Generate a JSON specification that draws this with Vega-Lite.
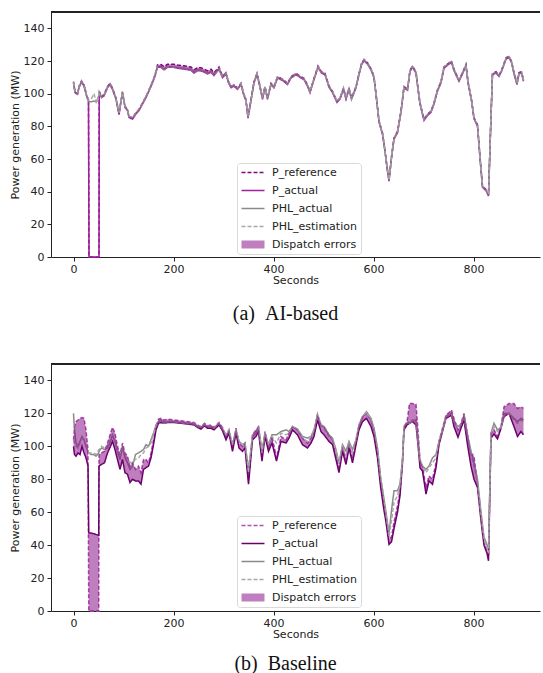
{
"$schema": "https://vega.github.io/schema/vega-lite/v6.json",
"background": "white",
"padding": {"left": 9, "top": 11, "right": 0, "bottom": 0},
"spacing": 39,
"config": {
  "view": {"stroke": null},
  "axis": {"domainColor": "#222", "tickColor": "#222", "labelColor": "#222", "titleColor": "#222", "labelFont": "DejaVu Sans", "titleFont": "DejaVu Sans", "labelFontSize": 11, "titleFontSize": 11, "titleFontWeight": "normal", "grid": false, "tickSize": 4, "labelPadding": 3, "domainWidth": 1, "tickWidth": 1, "titlePadding": 3, "labelOverlap": false},
  "axisX": {"titlePadding": 0, "labelPadding": 2},
  "title": {"font": "Liberation Serif", "fontSize": 20, "fontWeight": "normal", "color": "#111"}
},
"resolve": {"scale": {"color": "independent", "strokeDash": "independent"}, "legend": {"color": "independent"}},
"datasets": {
"a": [
{"t":0,"P_reference":107.4,"P_actual":106.6,"PHL_actual":107,"PHL_estimation":107},
{"t":3,"P_reference":101.4,"P_actual":100.6,"PHL_actual":101,"PHL_estimation":101.2},
{"t":8,"P_reference":100.4,"P_actual":99.6,"PHL_actual":100,"PHL_estimation":100.2},
{"t":11,"P_reference":104.4,"P_actual":103.6,"PHL_actual":104,"PHL_estimation":104.2},
{"t":16,"P_reference":107.9,"P_actual":107.1,"PHL_actual":107.5,"PHL_estimation":107.5},
{"t":21,"P_reference":105.4,"P_actual":104.6,"PHL_actual":105,"PHL_estimation":105.2},
{"t":27,"P_reference":98.4,"P_actual":97.6,"PHL_actual":98,"PHL_estimation":98.2},
{"t":30,"P_reference":96.4,"P_actual":95.6,"PHL_actual":96,"PHL_estimation":96.2},
{"t":31,"P_reference":0,"P_actual":0,"PHL_actual":95,"PHL_estimation":96.5},
{"t":36,"P_reference":0,"P_actual":0,"PHL_actual":95,"PHL_estimation":97},
{"t":41,"P_reference":0,"P_actual":0,"PHL_actual":95.5,"PHL_estimation":100},
{"t":46,"P_reference":0,"P_actual":0,"PHL_actual":95,"PHL_estimation":94},
{"t":51,"P_reference":0,"P_actual":0,"PHL_actual":99,"PHL_estimation":100},
{"t":51.5,"P_reference":101.4,"P_actual":100.6,"PHL_actual":101,"PHL_estimation":101},
{"t":56,"P_reference":98.4,"P_actual":97.6,"PHL_actual":98,"PHL_estimation":98.2},
{"t":61,"P_reference":99.4,"P_actual":98.6,"PHL_actual":99,"PHL_estimation":99.2},
{"t":68,"P_reference":104.4,"P_actual":103.6,"PHL_actual":104,"PHL_estimation":104.2},
{"t":73,"P_reference":106.4,"P_actual":105.6,"PHL_actual":106,"PHL_estimation":106.2},
{"t":78,"P_reference":103.4,"P_actual":102.6,"PHL_actual":103,"PHL_estimation":103.2},
{"t":85,"P_reference":97.4,"P_actual":96.6,"PHL_actual":97,"PHL_estimation":97.2},
{"t":91,"P_reference":88,"P_actual":87.2,"PHL_actual":88.2,"PHL_estimation":88.4},
{"t":98,"P_reference":101.4,"P_actual":100.6,"PHL_actual":101,"PHL_estimation":101.2},
{"t":103,"P_reference":92.4,"P_actual":91.6,"PHL_actual":92,"PHL_estimation":92.2},
{"t":108,"P_reference":90.4,"P_actual":89.6,"PHL_actual":90,"PHL_estimation":90.2},
{"t":111,"P_reference":86.2,"P_actual":85.4,"PHL_actual":86,"PHL_estimation":86.2},
{"t":118,"P_reference":85.2,"P_actual":84.4,"PHL_actual":85,"PHL_estimation":85.2},
{"t":125,"P_reference":88.4,"P_actual":87.6,"PHL_actual":88,"PHL_estimation":88.2},
{"t":131,"P_reference":90.4,"P_actual":89.6,"PHL_actual":90,"PHL_estimation":90.2},
{"t":138,"P_reference":94.4,"P_actual":93.6,"PHL_actual":94,"PHL_estimation":94.2},
{"t":145,"P_reference":98.4,"P_actual":97.6,"PHL_actual":98,"PHL_estimation":98.2},
{"t":151,"P_reference":102.4,"P_actual":101.6,"PHL_actual":102,"PHL_estimation":102.2},
{"t":158,"P_reference":107.4,"P_actual":106.6,"PHL_actual":107,"PHL_estimation":107.2},
{"t":163,"P_reference":111.6,"P_actual":110.6,"PHL_actual":111,"PHL_estimation":111.2},
{"t":168,"P_reference":117.6,"P_actual":116.3,"PHL_actual":116.7,"PHL_estimation":116.9},
{"t":175,"P_reference":117.8,"P_actual":116.1,"PHL_actual":116.5,"PHL_estimation":116.7},
{"t":181,"P_reference":116.6,"P_actual":114.6,"PHL_actual":115,"PHL_estimation":115.2},
{"t":188,"P_reference":118,"P_actual":116.1,"PHL_actual":116.5,"PHL_estimation":116.7},
{"t":200,"P_reference":118,"P_actual":116.1,"PHL_actual":116.5,"PHL_estimation":116.5},
{"t":208,"P_reference":117.6,"P_actual":115.6,"PHL_actual":116,"PHL_estimation":116.2},
{"t":220,"P_reference":117.1,"P_actual":115.1,"PHL_actual":115.5,"PHL_estimation":115.7},
{"t":235,"P_reference":116.3,"P_actual":114.3,"PHL_actual":114.7,"PHL_estimation":114.9},
{"t":241,"P_reference":114.6,"P_actual":112.6,"PHL_actual":113,"PHL_estimation":113.2},
{"t":248,"P_reference":116,"P_actual":114.1,"PHL_actual":114.5,"PHL_estimation":114.7},
{"t":255,"P_reference":115.8,"P_actual":113.9,"PHL_actual":114.3,"PHL_estimation":114.5},
{"t":262,"P_reference":115,"P_actual":113.1,"PHL_actual":113.5,"PHL_estimation":113.7},
{"t":268,"P_reference":114,"P_actual":112.1,"PHL_actual":112.5,"PHL_estimation":112.7},
{"t":275,"P_reference":115,"P_actual":113.1,"PHL_actual":113.5,"PHL_estimation":113.7},
{"t":281,"P_reference":112.8,"P_actual":111.1,"PHL_actual":111.5,"PHL_estimation":111.7},
{"t":291,"P_reference":116.3,"P_actual":114.9,"PHL_actual":115.3,"PHL_estimation":115.5},
{"t":298,"P_reference":110.8,"P_actual":109.8,"PHL_actual":110.2,"PHL_estimation":110.4},
{"t":305,"P_reference":112.8,"P_actual":112,"PHL_actual":112.4,"PHL_estimation":112.6},
{"t":310,"P_reference":107.4,"P_actual":106.6,"PHL_actual":107,"PHL_estimation":107.2},
{"t":315,"P_reference":104.4,"P_actual":103.6,"PHL_actual":104,"PHL_estimation":104.2},
{"t":321,"P_reference":105.4,"P_actual":104.6,"PHL_actual":105,"PHL_estimation":105.2},
{"t":328,"P_reference":103.4,"P_actual":102.6,"PHL_actual":103,"PHL_estimation":103.2},
{"t":335,"P_reference":106.4,"P_actual":105.6,"PHL_actual":106,"PHL_estimation":106.2},
{"t":340,"P_reference":100.4,"P_actual":99.6,"PHL_actual":100,"PHL_estimation":100.2},
{"t":345,"P_reference":96.4,"P_actual":95.6,"PHL_actual":96,"PHL_estimation":96.2},
{"t":349,"P_reference":85.8,"P_actual":85,"PHL_actual":85.7,"PHL_estimation":86},
{"t":355,"P_reference":96.4,"P_actual":95.6,"PHL_actual":96,"PHL_estimation":96.2},
{"t":361,"P_reference":107.4,"P_actual":106.6,"PHL_actual":107,"PHL_estimation":107.2},
{"t":367,"P_reference":112.4,"P_actual":111.6,"PHL_actual":112,"PHL_estimation":112.2},
{"t":371,"P_reference":107.4,"P_actual":106.6,"PHL_actual":107,"PHL_estimation":107.2},
{"t":378,"P_reference":97.4,"P_actual":96.6,"PHL_actual":97,"PHL_estimation":97.2},
{"t":383,"P_reference":104.4,"P_actual":103.6,"PHL_actual":104,"PHL_estimation":104.2},
{"t":388,"P_reference":97.4,"P_actual":96.6,"PHL_actual":97,"PHL_estimation":97.2},
{"t":395,"P_reference":106.4,"P_actual":105.6,"PHL_actual":106,"PHL_estimation":106.2},
{"t":401,"P_reference":104.4,"P_actual":103.6,"PHL_actual":104,"PHL_estimation":104.2},
{"t":408,"P_reference":110.4,"P_actual":109.6,"PHL_actual":110,"PHL_estimation":110.2},
{"t":418,"P_reference":108.9,"P_actual":108.1,"PHL_actual":108.5,"PHL_estimation":108.7},
{"t":428,"P_reference":106.4,"P_actual":105.6,"PHL_actual":106,"PHL_estimation":106.2},
{"t":435,"P_reference":110.4,"P_actual":109.6,"PHL_actual":110,"PHL_estimation":110.2},
{"t":445,"P_reference":112.4,"P_actual":111.6,"PHL_actual":112,"PHL_estimation":112.2},
{"t":455,"P_reference":110.4,"P_actual":109.6,"PHL_actual":110,"PHL_estimation":110.2},
{"t":461,"P_reference":109.4,"P_actual":108.6,"PHL_actual":109,"PHL_estimation":109.2},
{"t":468,"P_reference":105.4,"P_actual":104.6,"PHL_actual":105,"PHL_estimation":105.2},
{"t":473,"P_reference":101.4,"P_actual":100.6,"PHL_actual":101,"PHL_estimation":101.2},
{"t":481,"P_reference":109.4,"P_actual":108.6,"PHL_actual":109,"PHL_estimation":109.2},
{"t":489,"P_reference":116.9,"P_actual":116.1,"PHL_actual":116.5,"PHL_estimation":116.7},
{"t":496,"P_reference":113.4,"P_actual":112.6,"PHL_actual":113,"PHL_estimation":113.2},
{"t":503,"P_reference":112.4,"P_actual":111.6,"PHL_actual":112,"PHL_estimation":112.2},
{"t":511,"P_reference":104.7,"P_actual":103.9,"PHL_actual":104.3,"PHL_estimation":104.5},
{"t":518,"P_reference":101.4,"P_actual":100.6,"PHL_actual":101,"PHL_estimation":101.2},
{"t":527,"P_reference":95.4,"P_actual":94.6,"PHL_actual":95,"PHL_estimation":95.2},
{"t":533,"P_reference":97.4,"P_actual":96.6,"PHL_actual":97,"PHL_estimation":97.2},
{"t":540,"P_reference":103.4,"P_actual":102.6,"PHL_actual":103,"PHL_estimation":103.2},
{"t":545,"P_reference":97.4,"P_actual":96.6,"PHL_actual":97,"PHL_estimation":97.2},
{"t":551,"P_reference":103.4,"P_actual":102.6,"PHL_actual":103,"PHL_estimation":103.2},
{"t":556,"P_reference":97.4,"P_actual":96.6,"PHL_actual":97,"PHL_estimation":97.2},
{"t":565,"P_reference":104.4,"P_actual":103.6,"PHL_actual":104,"PHL_estimation":104.2},
{"t":571,"P_reference":112.4,"P_actual":111.6,"PHL_actual":112,"PHL_estimation":112.2},
{"t":576,"P_reference":118.4,"P_actual":117.6,"PHL_actual":118,"PHL_estimation":118.2},
{"t":581,"P_reference":120.9,"P_actual":120.1,"PHL_actual":120.5,"PHL_estimation":120.7},
{"t":588,"P_reference":118.9,"P_actual":118.1,"PHL_actual":118.5,"PHL_estimation":118.7},
{"t":595,"P_reference":115.4,"P_actual":114.6,"PHL_actual":115,"PHL_estimation":115.2},
{"t":601,"P_reference":110.4,"P_actual":109.6,"PHL_actual":110,"PHL_estimation":110.2},
{"t":606,"P_reference":97.4,"P_actual":96.6,"PHL_actual":97,"PHL_estimation":97.2},
{"t":611,"P_reference":83.4,"P_actual":82.6,"PHL_actual":83,"PHL_estimation":83.2},
{"t":618,"P_reference":75.9,"P_actual":75.1,"PHL_actual":75.5,"PHL_estimation":75.7},
{"t":623,"P_reference":65.4,"P_actual":64.6,"PHL_actual":65,"PHL_estimation":65.2},
{"t":627,"P_reference":55.4,"P_actual":54.6,"PHL_actual":55,"PHL_estimation":55.2},
{"t":631,"P_reference":47.2,"P_actual":46.4,"PHL_actual":47,"PHL_estimation":47.2},
{"t":636,"P_reference":61.4,"P_actual":60.6,"PHL_actual":61,"PHL_estimation":61.2},
{"t":641,"P_reference":72.9,"P_actual":72.1,"PHL_actual":72.5,"PHL_estimation":72.7},
{"t":648,"P_reference":76.9,"P_actual":76.1,"PHL_actual":76.5,"PHL_estimation":76.7},
{"t":655,"P_reference":89.4,"P_actual":88.6,"PHL_actual":89,"PHL_estimation":89.2},
{"t":661,"P_reference":104.4,"P_actual":103.6,"PHL_actual":104,"PHL_estimation":104.2},
{"t":668,"P_reference":102.9,"P_actual":102.1,"PHL_actual":102.5,"PHL_estimation":102.7},
{"t":673,"P_reference":114.4,"P_actual":113.6,"PHL_actual":114,"PHL_estimation":114.2},
{"t":678,"P_reference":116.9,"P_actual":116.1,"PHL_actual":116.5,"PHL_estimation":116.7},
{"t":685,"P_reference":113.4,"P_actual":112.6,"PHL_actual":113,"PHL_estimation":113.2},
{"t":689,"P_reference":103.4,"P_actual":102.6,"PHL_actual":103,"PHL_estimation":103.2},
{"t":693,"P_reference":94.4,"P_actual":93.6,"PHL_actual":94,"PHL_estimation":94.2},
{"t":701,"P_reference":84.4,"P_actual":83.6,"PHL_actual":84,"PHL_estimation":84.2},
{"t":708,"P_reference":87.4,"P_actual":86.6,"PHL_actual":87,"PHL_estimation":87.2},
{"t":715,"P_reference":89.4,"P_actual":88.6,"PHL_actual":89,"PHL_estimation":89.2},
{"t":721,"P_reference":94.4,"P_actual":93.6,"PHL_actual":94,"PHL_estimation":94.2},
{"t":728,"P_reference":102.4,"P_actual":101.6,"PHL_actual":102,"PHL_estimation":102.2},
{"t":735,"P_reference":107.4,"P_actual":106.6,"PHL_actual":107,"PHL_estimation":107.2},
{"t":741,"P_reference":116.4,"P_actual":115.6,"PHL_actual":116,"PHL_estimation":116.2},
{"t":751,"P_reference":118.9,"P_actual":118.1,"PHL_actual":118.5,"PHL_estimation":118.7},
{"t":756,"P_reference":119.9,"P_actual":119.1,"PHL_actual":119.5,"PHL_estimation":119.7},
{"t":761,"P_reference":114.9,"P_actual":114.1,"PHL_actual":114.5,"PHL_estimation":114.7},
{"t":771,"P_reference":108.4,"P_actual":107.6,"PHL_actual":108,"PHL_estimation":108.2},
{"t":778,"P_reference":112.9,"P_actual":112.1,"PHL_actual":112.5,"PHL_estimation":112.7},
{"t":785,"P_reference":117.9,"P_actual":117.1,"PHL_actual":117.5,"PHL_estimation":117.7},
{"t":789,"P_reference":107.4,"P_actual":106.6,"PHL_actual":107,"PHL_estimation":107.2},
{"t":796,"P_reference":96.4,"P_actual":95.6,"PHL_actual":96,"PHL_estimation":96.2},
{"t":801,"P_reference":85.4,"P_actual":84.6,"PHL_actual":85,"PHL_estimation":85.2},
{"t":808,"P_reference":80.9,"P_actual":80.1,"PHL_actual":80.5,"PHL_estimation":80.7},
{"t":813,"P_reference":61.4,"P_actual":60.6,"PHL_actual":61,"PHL_estimation":61.2},
{"t":818,"P_reference":43.4,"P_actual":42.6,"PHL_actual":43,"PHL_estimation":43.2},
{"t":825,"P_reference":41.4,"P_actual":40.6,"PHL_actual":41,"PHL_estimation":41.2},
{"t":830,"P_reference":38.2,"P_actual":37.4,"PHL_actual":38,"PHL_estimation":38.2},
{"t":835,"P_reference":86.4,"P_actual":85.6,"PHL_actual":86,"PHL_estimation":86.2},
{"t":838,"P_reference":112.4,"P_actual":111.6,"PHL_actual":112,"PHL_estimation":112.2},
{"t":845,"P_reference":113.4,"P_actual":112.6,"PHL_actual":113,"PHL_estimation":113.2},
{"t":851,"P_reference":111.4,"P_actual":110.6,"PHL_actual":111,"PHL_estimation":111.2},
{"t":856,"P_reference":114.4,"P_actual":113.6,"PHL_actual":114,"PHL_estimation":114.2},
{"t":865,"P_reference":121.9,"P_actual":121.1,"PHL_actual":121.5,"PHL_estimation":121.7},
{"t":871,"P_reference":122.9,"P_actual":122.1,"PHL_actual":122.5,"PHL_estimation":122.7},
{"t":876,"P_reference":119.9,"P_actual":119.1,"PHL_actual":119.5,"PHL_estimation":119.7},
{"t":881,"P_reference":112.9,"P_actual":112.1,"PHL_actual":112.5,"PHL_estimation":112.7},
{"t":887,"P_reference":106.4,"P_actual":105.6,"PHL_actual":106,"PHL_estimation":106.2},
{"t":891,"P_reference":112.9,"P_actual":112.1,"PHL_actual":112.5,"PHL_estimation":112.7},
{"t":896,"P_reference":113.4,"P_actual":112.6,"PHL_actual":113,"PHL_estimation":113.2},
{"t":900,"P_reference":108.4,"P_actual":107.6,"PHL_actual":108,"PHL_estimation":108.2}
],
"b": [
{"t":0,"P_reference":104,"P_actual":100,"PHL_actual":120,"PHL_estimation":104},
{"t":2,"P_reference":112,"P_actual":95,"PHL_actual":110,"PHL_estimation":102},
{"t":5,"P_reference":115,"P_actual":94,"PHL_actual":102,"PHL_estimation":100},
{"t":9,"P_reference":116,"P_actual":96,"PHL_actual":100,"PHL_estimation":99},
{"t":13,"P_reference":117,"P_actual":95,"PHL_actual":103,"PHL_estimation":102},
{"t":17,"P_reference":117.5,"P_actual":100,"PHL_actual":106,"PHL_estimation":105},
{"t":21,"P_reference":117,"P_actual":96,"PHL_actual":104,"PHL_estimation":104},
{"t":25,"P_reference":110,"P_actual":93,"PHL_actual":100,"PHL_estimation":100},
{"t":29,"P_reference":98,"P_actual":88,"PHL_actual":97,"PHL_estimation":97},
{"t":30.5,"P_reference":0,"P_actual":47.5,"PHL_actual":96,"PHL_estimation":96},
{"t":35,"P_reference":0,"P_actual":47.3,"PHL_actual":95,"PHL_estimation":96},
{"t":40,"P_reference":0,"P_actual":47,"PHL_actual":95,"PHL_estimation":96},
{"t":45,"P_reference":0,"P_actual":46.5,"PHL_actual":94,"PHL_estimation":95},
{"t":50.5,"P_reference":0,"P_actual":46,"PHL_actual":96,"PHL_estimation":98},
{"t":51,"P_reference":95,"P_actual":88,"PHL_actual":97,"PHL_estimation":98},
{"t":56,"P_reference":96,"P_actual":89,"PHL_actual":99,"PHL_estimation":100},
{"t":62,"P_reference":97,"P_actual":90,"PHL_actual":98,"PHL_estimation":99},
{"t":68,"P_reference":102,"P_actual":96,"PHL_actual":99,"PHL_estimation":100},
{"t":74,"P_reference":108,"P_actual":100,"PHL_actual":103,"PHL_estimation":104},
{"t":78,"P_reference":111.5,"P_actual":103,"PHL_actual":107,"PHL_estimation":107},
{"t":83,"P_reference":108,"P_actual":98,"PHL_actual":103,"PHL_estimation":103},
{"t":88,"P_reference":100,"P_actual":92,"PHL_actual":97,"PHL_estimation":97},
{"t":93,"P_reference":95,"P_actual":86,"PHL_actual":92,"PHL_estimation":94},
{"t":98,"P_reference":102,"P_actual":92,"PHL_actual":100,"PHL_estimation":99},
{"t":103,"P_reference":96,"P_actual":84,"PHL_actual":93,"PHL_estimation":94},
{"t":108,"P_reference":94,"P_actual":83,"PHL_actual":90,"PHL_estimation":92},
{"t":113,"P_reference":88,"P_actual":78,"PHL_actual":86,"PHL_estimation":90},
{"t":118,"P_reference":90,"P_actual":80,"PHL_actual":88,"PHL_estimation":91},
{"t":124,"P_reference":86,"P_actual":79,"PHL_actual":95,"PHL_estimation":92},
{"t":130,"P_reference":88,"P_actual":79,"PHL_actual":96,"PHL_estimation":93},
{"t":135,"P_reference":84,"P_actual":77,"PHL_actual":97,"PHL_estimation":95},
{"t":140,"P_reference":92,"P_actual":86,"PHL_actual":98,"PHL_estimation":96},
{"t":145,"P_reference":92,"P_actual":87,"PHL_actual":101,"PHL_estimation":99},
{"t":150,"P_reference":90,"P_actual":88,"PHL_actual":100,"PHL_estimation":100},
{"t":155,"P_reference":96,"P_actual":93,"PHL_actual":104,"PHL_estimation":102},
{"t":160,"P_reference":104,"P_actual":101,"PHL_actual":108,"PHL_estimation":107},
{"t":165,"P_reference":112,"P_actual":110,"PHL_actual":113,"PHL_estimation":112},
{"t":170,"P_reference":116.5,"P_actual":114,"PHL_actual":115,"PHL_estimation":115},
{"t":175,"P_reference":117,"P_actual":114.5,"PHL_actual":116,"PHL_estimation":116},
{"t":180,"P_reference":116,"P_actual":114,"PHL_actual":114,"PHL_estimation":115},
{"t":190,"P_reference":116.5,"P_actual":114.5,"PHL_actual":115,"PHL_estimation":115.5},
{"t":200,"P_reference":116,"P_actual":114.5,"PHL_actual":115,"PHL_estimation":115},
{"t":215,"P_reference":115.5,"P_actual":114,"PHL_actual":114.5,"PHL_estimation":114.5},
{"t":230,"P_reference":115,"P_actual":113.5,"PHL_actual":114,"PHL_estimation":114},
{"t":241,"P_reference":114.5,"P_actual":113,"PHL_actual":113.5,"PHL_estimation":114},
{"t":248,"P_reference":113,"P_actual":111.5,"PHL_actual":112,"PHL_estimation":112.5},
{"t":255,"P_reference":112,"P_actual":110.5,"PHL_actual":111.5,"PHL_estimation":112},
{"t":262,"P_reference":114,"P_actual":112.5,"PHL_actual":113,"PHL_estimation":113.5},
{"t":268,"P_reference":112.5,"P_actual":111,"PHL_actual":112,"PHL_estimation":112},
{"t":275,"P_reference":113,"P_actual":111,"PHL_actual":112,"PHL_estimation":112.5},
{"t":281,"P_reference":111.5,"P_actual":110,"PHL_actual":111,"PHL_estimation":111},
{"t":291,"P_reference":114.5,"P_actual":113,"PHL_actual":114,"PHL_estimation":114},
{"t":298,"P_reference":111.5,"P_actual":109.5,"PHL_actual":110.5,"PHL_estimation":111},
{"t":305,"P_reference":106,"P_actual":104,"PHL_actual":107,"PHL_estimation":107},
{"t":311,"P_reference":110,"P_actual":108,"PHL_actual":109,"PHL_estimation":110},
{"t":318,"P_reference":100,"P_actual":97,"PHL_actual":101,"PHL_estimation":101},
{"t":325,"P_reference":111,"P_actual":108,"PHL_actual":110,"PHL_estimation":110},
{"t":331,"P_reference":102,"P_actual":99,"PHL_actual":103,"PHL_estimation":103},
{"t":338,"P_reference":100,"P_actual":97,"PHL_actual":101,"PHL_estimation":101},
{"t":343,"P_reference":102,"P_actual":99,"PHL_actual":102,"PHL_estimation":102},
{"t":350,"P_reference":80,"P_actual":77,"PHL_actual":86,"PHL_estimation":84},
{"t":358,"P_reference":107,"P_actual":104,"PHL_actual":106,"PHL_estimation":107},
{"t":365,"P_reference":110,"P_actual":106,"PHL_actual":108,"PHL_estimation":109},
{"t":370,"P_reference":112,"P_actual":109,"PHL_actual":112,"PHL_estimation":112},
{"t":377,"P_reference":94,"P_actual":91,"PHL_actual":97,"PHL_estimation":96},
{"t":383,"P_reference":109,"P_actual":106,"PHL_actual":108,"PHL_estimation":108},
{"t":390,"P_reference":100,"P_actual":97,"PHL_actual":101,"PHL_estimation":101},
{"t":397,"P_reference":106,"P_actual":102,"PHL_actual":107,"PHL_estimation":106},
{"t":406,"P_reference":93,"P_actual":91,"PHL_actual":107,"PHL_estimation":102},
{"t":415,"P_reference":106,"P_actual":103,"PHL_actual":109,"PHL_estimation":108},
{"t":425,"P_reference":104,"P_actual":102,"PHL_actual":110,"PHL_estimation":107},
{"t":431,"P_reference":108,"P_actual":105,"PHL_actual":109,"PHL_estimation":108},
{"t":438,"P_reference":112,"P_actual":110,"PHL_actual":112,"PHL_estimation":112},
{"t":448,"P_reference":110,"P_actual":107,"PHL_actual":110.5,"PHL_estimation":110},
{"t":458,"P_reference":105,"P_actual":101,"PHL_actual":106,"PHL_estimation":105},
{"t":468,"P_reference":102,"P_actual":99,"PHL_actual":105,"PHL_estimation":103},
{"t":475,"P_reference":105,"P_actual":102,"PHL_actual":106,"PHL_estimation":106},
{"t":481,"P_reference":109,"P_actual":106,"PHL_actual":110,"PHL_estimation":109},
{"t":488,"P_reference":119.5,"P_actual":116,"PHL_actual":119,"PHL_estimation":119},
{"t":495,"P_reference":113,"P_actual":109,"PHL_actual":113,"PHL_estimation":113},
{"t":501,"P_reference":112,"P_actual":107,"PHL_actual":112,"PHL_estimation":111},
{"t":511,"P_reference":107,"P_actual":103,"PHL_actual":107,"PHL_estimation":106},
{"t":518,"P_reference":104,"P_actual":101,"PHL_actual":105,"PHL_estimation":104},
{"t":525,"P_reference":95,"P_actual":92,"PHL_actual":98,"PHL_estimation":97},
{"t":531,"P_reference":87,"P_actual":84,"PHL_actual":90,"PHL_estimation":89},
{"t":538,"P_reference":100,"P_actual":97,"PHL_actual":101,"PHL_estimation":100},
{"t":545,"P_reference":92,"P_actual":89,"PHL_actual":97,"PHL_estimation":94},
{"t":551,"P_reference":102,"P_actual":99,"PHL_actual":103,"PHL_estimation":102},
{"t":558,"P_reference":93,"P_actual":90,"PHL_actual":98,"PHL_estimation":96},
{"t":565,"P_reference":104,"P_actual":101,"PHL_actual":104,"PHL_estimation":104},
{"t":571,"P_reference":113,"P_actual":110,"PHL_actual":113,"PHL_estimation":113},
{"t":578,"P_reference":118,"P_actual":115,"PHL_actual":118,"PHL_estimation":117},
{"t":586,"P_reference":120,"P_actual":117,"PHL_actual":121,"PHL_estimation":120.5},
{"t":595,"P_reference":116,"P_actual":112,"PHL_actual":117,"PHL_estimation":116},
{"t":601,"P_reference":110,"P_actual":106,"PHL_actual":111,"PHL_estimation":110},
{"t":608,"P_reference":97,"P_actual":93,"PHL_actual":99,"PHL_estimation":98},
{"t":614,"P_reference":80,"P_actual":76,"PHL_actual":82,"PHL_estimation":81},
{"t":620,"P_reference":67,"P_actual":63,"PHL_actual":70,"PHL_estimation":69},
{"t":625,"P_reference":57,"P_actual":54,"PHL_actual":60,"PHL_estimation":58},
{"t":631,"P_reference":44,"P_actual":40.5,"PHL_actual":47,"PHL_estimation":45},
{"t":636,"P_reference":45,"P_actual":42,"PHL_actual":61,"PHL_estimation":55},
{"t":641,"P_reference":54,"P_actual":50,"PHL_actual":73,"PHL_estimation":66},
{"t":648,"P_reference":64,"P_actual":60,"PHL_actual":73,"PHL_estimation":70},
{"t":653,"P_reference":73,"P_actual":70,"PHL_actual":77,"PHL_estimation":76},
{"t":658,"P_reference":92,"P_actual":90,"PHL_actual":92,"PHL_estimation":92},
{"t":661,"P_reference":112,"P_actual":110,"PHL_actual":112,"PHL_estimation":112},
{"t":667,"P_reference":115,"P_actual":113,"PHL_actual":114,"PHL_estimation":114},
{"t":672,"P_reference":126,"P_actual":114,"PHL_actual":114,"PHL_estimation":115},
{"t":678,"P_reference":126,"P_actual":115,"PHL_actual":115,"PHL_estimation":116},
{"t":685,"P_reference":125.5,"P_actual":113,"PHL_actual":116,"PHL_estimation":116},
{"t":689,"P_reference":110,"P_actual":101,"PHL_actual":104,"PHL_estimation":104},
{"t":693,"P_reference":92,"P_actual":87,"PHL_actual":91,"PHL_estimation":91},
{"t":698,"P_reference":88,"P_actual":85,"PHL_actual":88,"PHL_estimation":88},
{"t":705,"P_reference":75,"P_actual":71,"PHL_actual":86,"PHL_estimation":84},
{"t":711,"P_reference":82,"P_actual":79,"PHL_actual":88,"PHL_estimation":87},
{"t":718,"P_reference":80,"P_actual":77,"PHL_actual":93,"PHL_estimation":90},
{"t":725,"P_reference":90,"P_actual":87,"PHL_actual":95,"PHL_estimation":93},
{"t":731,"P_reference":103,"P_actual":101,"PHL_actual":103,"PHL_estimation":103},
{"t":738,"P_reference":111,"P_actual":109,"PHL_actual":110,"PHL_estimation":110},
{"t":745,"P_reference":119,"P_actual":117,"PHL_actual":118,"PHL_estimation":118},
{"t":751,"P_reference":120.5,"P_actual":118,"PHL_actual":119,"PHL_estimation":119},
{"t":756,"P_reference":122,"P_actual":119,"PHL_actual":120,"PHL_estimation":120},
{"t":761,"P_reference":117,"P_actual":112,"PHL_actual":115,"PHL_estimation":115},
{"t":769,"P_reference":110,"P_actual":105.5,"PHL_actual":112,"PHL_estimation":111},
{"t":775,"P_reference":114,"P_actual":111,"PHL_actual":113,"PHL_estimation":113},
{"t":781,"P_reference":120,"P_actual":116,"PHL_actual":119,"PHL_estimation":118},
{"t":788,"P_reference":108,"P_actual":101,"PHL_actual":107,"PHL_estimation":106},
{"t":795,"P_reference":96,"P_actual":88,"PHL_actual":97,"PHL_estimation":95},
{"t":801,"P_reference":94,"P_actual":80,"PHL_actual":90,"PHL_estimation":88},
{"t":808,"P_reference":78,"P_actual":75,"PHL_actual":80,"PHL_estimation":78},
{"t":815,"P_reference":58,"P_actual":55,"PHL_actual":60,"PHL_estimation":58},
{"t":821,"P_reference":42,"P_actual":40,"PHL_actual":45,"PHL_estimation":43},
{"t":827,"P_reference":37,"P_actual":35,"PHL_actual":40,"PHL_estimation":38},
{"t":830,"P_reference":33,"P_actual":30.5,"PHL_actual":38,"PHL_estimation":35},
{"t":835,"P_reference":108,"P_actual":105,"PHL_actual":108,"PHL_estimation":107},
{"t":841,"P_reference":110,"P_actual":107.5,"PHL_actual":114,"PHL_estimation":112},
{"t":848,"P_reference":106,"P_actual":104.5,"PHL_actual":110,"PHL_estimation":109},
{"t":855,"P_reference":112,"P_actual":111,"PHL_actual":111.5,"PHL_estimation":111.5},
{"t":861,"P_reference":124,"P_actual":118,"PHL_actual":120,"PHL_estimation":119},
{"t":871,"P_reference":126,"P_actual":120,"PHL_actual":120,"PHL_estimation":120},
{"t":881,"P_reference":126,"P_actual":112,"PHL_actual":117,"PHL_estimation":116},
{"t":888,"P_reference":123,"P_actual":106,"PHL_actual":115,"PHL_estimation":114},
{"t":895,"P_reference":124,"P_actual":109,"PHL_actual":117,"PHL_estimation":116},
{"t":900,"P_reference":123,"P_actual":107,"PHL_actual":116,"PHL_estimation":115}
]
},
"vconcat": [
{
  "width": 489, "height": 245,
  "title": {"text": "(a)\u2002AI-based", "orient": "bottom", "offset": 19, "dx": -10},
  "data": {"name": "a"},
  "layer": [
    {
      "transform": [{"fold": ["P_reference", "P_actual", "PHL_actual", "PHL_estimation"], "as": ["series", "value"]}],
      "mark": {"type": "line", "strokeWidth": 1.5},
      "encoding": {
        "x": {"field": "t", "type": "quantitative", "scale": {"domain": [-45, 933], "nice": false, "zero": false}, "axis": {"values": [0, 200, 400, 600, 800], "title": "Seconds"}},
        "y": {"field": "value", "type": "quantitative", "scale": {"domain": [0, 150], "nice": false}, "axis": {"values": [0, 20, 40, 60, 80, 100, 120, 140], "tickCount": 8, "title": "Power generation (MW)", "labelOverlap": false}},
        "color": {"field": "series", "type": "nominal",
          "scale": {"domain": ["P_reference", "P_actual", "PHL_actual", "PHL_estimation", "Dispatch errors"], "range": ["#7d0a7d", "#a020a0", "#8a8a8a", "#a8a8a8", "#800080"]},
          "legend": {"title": null, "orient": "none", "legendX": 186, "legendY": 151,
            "symbolType": "M-1,0H3.6", "symbolSize": 100, "symbolStrokeWidth": 1.5,
            "labelFont": "DejaVu Sans", "labelFontSize": 11, "labelColor": "#222", "labelOffset": 20,
            "padding": 4, "rowPadding": 6, "strokeColor": "#d9d9d9", "cornerRadius": 3, "fillColor": "white",
            "encode": {"symbols": {"update": {
              "shape": {"signal": "datum.value === 'Dispatch errors' ? 'M-1,-0.8H3.6V0.8H-1Z' : 'M-1,0H3.6'"},
              "strokeWidth": {"signal": "datum.value === 'Dispatch errors' ? 0 : 1.5"},
              "strokeDash": {"signal": "(datum.value === 'P_reference' || datum.value === 'PHL_estimation') ? [4, 2] : [1, 0]"},
              "opacity": {"signal": "datum.value === 'Dispatch errors' ? 0.5 : 1"}
            }}}
          }},
        "strokeDash": {"field": "series", "type": "nominal", "scale": {"domain": ["P_reference", "P_actual", "PHL_actual", "PHL_estimation"], "range": [[4, 2], [1, 0], [1, 0], [4, 2]]}, "legend": null}
      }
    },
    {
      "mark": {"type": "area", "opacity": 0.5},
      "encoding": {
        "x": {"field": "t", "type": "quantitative"},
        "y": {"field": "P_reference", "type": "quantitative", "axis": {"values": [0, 20, 40, 60, 80, 100, 120, 140], "tickCount": 8, "title": "Power generation (MW)", "labelOverlap": false}},
        "y2": {"field": "P_actual"},
        "color": {"datum": "Dispatch errors"}
      }
    },
    {
      "mark": {"type": "rule", "color": "#222", "strokeWidth": 1},
      "encoding": {"y": {"datum": 150, "type": "quantitative", "axis": {"values": [0, 20, 40, 60, 80, 100, 120, 140], "tickCount": 8, "title": "Power generation (MW)", "labelOverlap": false}}}
    }
  ]
},
{
  "width": 489, "height": 247,
  "title": {"text": "(b)\u2002Baseline", "orient": "bottom", "offset": 15, "dx": -10},
  "data": {"name": "b"},
  "layer": [
    {
      "transform": [{"fold": ["P_reference", "P_actual", "PHL_actual", "PHL_estimation"], "as": ["series", "value"]}],
      "mark": {"type": "line", "strokeWidth": 1.5},
      "encoding": {
        "x": {"field": "t", "type": "quantitative", "scale": {"domain": [-45, 933], "nice": false, "zero": false}, "axis": {"values": [0, 200, 400, 600, 800], "title": "Seconds"}},
        "y": {"field": "value", "type": "quantitative", "scale": {"domain": [0, 150], "nice": false}, "axis": {"values": [0, 20, 40, 60, 80, 100, 120, 140], "tickCount": 8, "title": "Power generation (MW)", "labelOverlap": false}},
        "color": {"field": "series", "type": "nominal",
          "scale": {"domain": ["P_reference", "P_actual", "PHL_actual", "PHL_estimation", "Dispatch errors"], "range": ["#b050b0", "#6a006a", "#8a8a8a", "#a8a8a8", "#800080"]},
          "legend": {"title": null, "orient": "none", "legendX": 186, "legendY": 152,
            "symbolType": "M-1,0H3.6", "symbolSize": 100, "symbolStrokeWidth": 1.5,
            "labelFont": "DejaVu Sans", "labelFontSize": 11, "labelColor": "#222", "labelOffset": 20,
            "padding": 4, "rowPadding": 6, "strokeColor": "#d9d9d9", "cornerRadius": 3, "fillColor": "white",
            "encode": {"symbols": {"update": {
              "shape": {"signal": "datum.value === 'Dispatch errors' ? 'M-1,-0.8H3.6V0.8H-1Z' : 'M-1,0H3.6'"},
              "strokeWidth": {"signal": "datum.value === 'Dispatch errors' ? 0 : 1.5"},
              "strokeDash": {"signal": "(datum.value === 'P_reference' || datum.value === 'PHL_estimation') ? [4, 2] : [1, 0]"},
              "opacity": {"signal": "datum.value === 'Dispatch errors' ? 0.5 : 1"}
            }}}
          }},
        "strokeDash": {"field": "series", "type": "nominal", "scale": {"domain": ["P_reference", "P_actual", "PHL_actual", "PHL_estimation"], "range": [[4, 2], [1, 0], [1, 0], [4, 2]]}, "legend": null}
      }
    },
    {
      "mark": {"type": "area", "opacity": 0.5},
      "encoding": {
        "x": {"field": "t", "type": "quantitative"},
        "y": {"field": "P_reference", "type": "quantitative", "axis": {"values": [0, 20, 40, 60, 80, 100, 120, 140], "tickCount": 8, "title": "Power generation (MW)", "labelOverlap": false}},
        "y2": {"field": "P_actual"},
        "color": {"datum": "Dispatch errors"}
      }
    },
    {
      "mark": {"type": "rule", "color": "#222", "strokeWidth": 1},
      "encoding": {"y": {"datum": 150, "type": "quantitative", "axis": {"values": [0, 20, 40, 60, 80, 100, 120, 140], "tickCount": 8, "title": "Power generation (MW)", "labelOverlap": false}}}
    }
  ]
}
]
}
